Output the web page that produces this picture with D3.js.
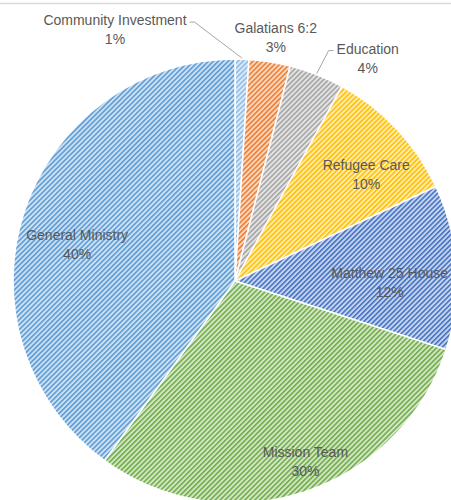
<!DOCTYPE html>
<html>
<head>
<meta charset="utf-8">
<script src="https://cdn.jsdelivr.net/npm/d3@7"></script>
<style>
  body { margin: 0; background: #fff; }
  svg { display: block; }
  text { font-family: "Liberation Sans", Arial, sans-serif; fill: #595959; }
</style>
</head>
<body>
<svg id="chart"></svg>
<script>
const w = 451;
const h = 500;

// data, clockwise from 12 o'clock
const categories = ["Community Investment", "Galatians 6:2", "Education", "Refugee Care", "Matthew 25 House", "Mission Team", "General Ministry"];
const values = [1, 3, 4, 10, 12, 30, 40];
const colors = ["#8fbbe6", "#ed7d31", "#a5a5a5", "#ffc000", "#4472c4", "#70ad47", "#5b9bd5"];

const center = {x: 235, y: 281};
const radius = 222;

// label placement: radius for centroid + nudge, and which ones get a leader line
const labelLayout = {
  "Community Investment": {r: 222, dx: -127, dy: -34, leader: true},
  "Galatians 6:2": {r: 248, dx: 2, dy: -3},
  "Education": {r: 222, dx: 51, dy: -21, leader: true},
  "Refugee Care": {r: 180, dx: 0, dy: 12},
  "Matthew 25 House": {r: 155, dx: 0, dy: 7},
  "Mission Team": {r: 189, dx: 12, dy: -4},
  "General Ministry": {r: 166, dx: 0, dy: 10}
};

const data = categories.map((c, i) => ({name: c, value: values[i], color: colors[i]}));

const svg = d3.select("#chart")
  .attr("width", w)
  .attr("height", h);

// thin frame line at top
svg.append("line")
  .attr("x1", 0).attr("x2", w)
  .attr("y1", 3.5).attr("y2", 3.5)
  .attr("stroke", "#d9d9d9")
  .attr("stroke-width", 1.5);

// hatched patterns
const defs = svg.append("defs");
data.forEach((d, i) => {
  const p = defs.append("pattern")
    .attr("id", "hatch" + i)
    .attr("patternUnits", "userSpaceOnUse")
    .attr("width", 3.5)
    .attr("height", 4)
    .attr("patternTransform", "rotate(45)");
  p.append("rect")
    .attr("width", 4).attr("height", 4)
    .attr("fill", d3.interpolateRgb(d.color, "#fff")(0.7));
  p.append("rect")
    .attr("width", 1.6).attr("height", 4)
    .attr("fill", d.color);
});

const pie = d3.pie().sort(null).value(d => d.value);
const arcs = pie(data);

const arc = d3.arc().innerRadius(0).outerRadius(radius);

const g = svg.append("g")
  .attr("transform", `translate(${center.x}, ${center.y})`);

g.selectAll(".slice")
  .data(arcs)
  .enter()
  .append("path")
  .attr("class", "slice")
  .attr("d", arc)
  .attr("fill", (d, i) => `url(#hatch${i})`)
  .attr("stroke", "#fff")
  .attr("stroke-width", 1.5);

// labels
arcs.forEach(a => {
  const lay = labelLayout[a.data.name];
  const [cx, cy] = d3.arc().innerRadius(lay.r).outerRadius(lay.r).centroid(a);
  const x = cx + lay.dx;
  const y = cy + lay.dy;

  const t = g.append("text")
    .attr("text-anchor", "middle")
    .style("font-size", "14px");
  t.append("tspan").attr("x", x).attr("y", y).text(a.data.name);
  t.append("tspan").attr("x", x).attr("y", y + 19).text(a.data.value + "%");

  if (lay.leader) {
    const edge = d3.arc().innerRadius(radius).outerRadius(radius).centroid(a);
    const tw = t.select("tspan").node().getComputedTextLength();
    // leader ends at the side of the first text line facing the slice
    const side = x < edge[0] ? 1 : -1;
    const ex = x + side * (tw / 2 + 3);
    const ey = y - 3;
    g.append("polyline")
      .attr("points", [[edge[0], edge[1] - 1], [ex + side * 5, ey], [ex, ey]].map(p => p.join(",")).join(" "))
      .attr("fill", "none")
      .attr("stroke", "#a6a6a6")
      .attr("stroke-width", 1);
  }
});
</script>
</body>
</html>
